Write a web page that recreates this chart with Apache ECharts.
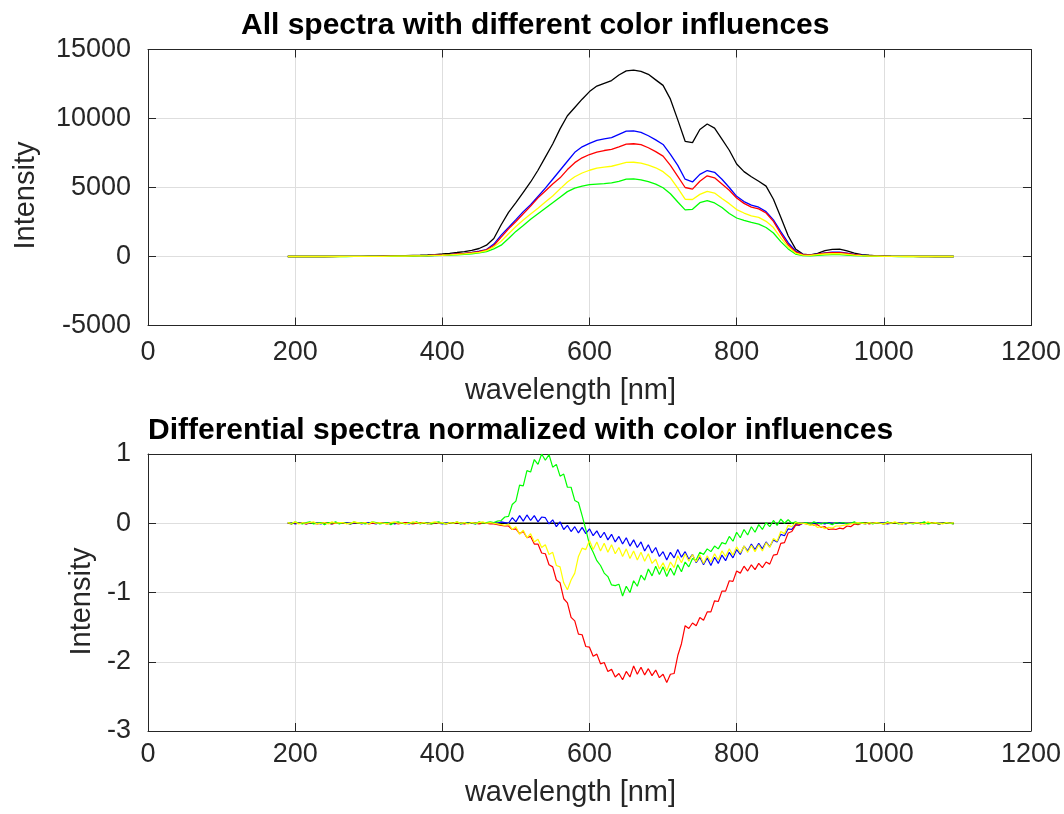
<!DOCTYPE html>
<html>
<head>
<meta charset="utf-8">
<script src="https://cdn.jsdelivr.net/npm/echarts@6/dist/echarts.min.js"></script>
<style>
html,body{margin:0;padding:0;background:#fff;}
#chart{width:1064px;height:814px;}
</style>
</head>
<body>
<div id="chart"></div>
<script>
// ---------- Top plot: wavelength grid (nm) ----------
var wlTop = [
 190,200,210,220,230,240,250,260,270,280,
 290,300,310,320,330,340,350,360,370,380,
 390,400,410,420,430,440,450,460,470,480,
 490,500,510,520,530,540,550,560,570,580,
 590,600,610,620,630,640,650,660,670,680,
 690,700,710,720,730,740,750,760,770,780,
 790,800,810,820,830,840,850,860,870,880,
 890,900,910,920,930,940,950,960,970,980,
 990,1000,1010,1020,1030,1040,1050,1060,1070,1080,
 1090,1095
];
var specBlack = [
 0,0,0,0,0,0,5,5,10,10,
 15,20,25,30,40,50,60,75,90,110,
 140,180,230,290,360,450,580,820,1300,2300,
 3200,3900,4650,5400,6250,7200,8150,9250,10200,10800,
 11400,11950,12350,12550,12750,13150,13450,13500,13420,13200,
 12800,12400,11400,9900,8350,8250,9200,9600,9300,8500,
 7700,6700,6150,5780,5450,5100,4150,2850,1500,550,
 170,120,230,420,520,540,400,250,140,90,
 50,30,20,15,10,10,5,5,0,0,
 0,0
];
var specBlue = [
 0,0,0,0,0,0,0,5,5,5,
 10,10,15,20,25,30,40,50,60,70,
 90,110,140,180,230,300,380,500,900,1550,
 2100,2670,3250,3750,4350,4950,5600,6250,6900,7550,
 7950,8200,8420,8530,8620,8850,9080,9100,9000,8750,
 8450,8120,7400,6600,5600,5400,5950,6230,6100,5600,
 5000,4360,3980,3720,3570,3250,2650,1800,1000,400,
 150,100,180,270,310,310,240,150,90,50,
 30,20,10,10,5,5,0,0,0,0,
 0,0
];
var specRed = [
 0,0,0,0,0,0,0,5,5,5,
 10,10,15,20,25,30,40,50,60,70,
 90,110,140,180,220,280,360,480,800,1400,
 2000,2540,3100,3650,4250,4750,5250,5700,6300,6800,
 7150,7390,7560,7680,7760,7950,8150,8170,8100,7880,
 7600,7270,6600,5800,5000,4880,5450,5850,5700,5250,
 4800,4240,3850,3580,3450,3150,2550,1650,850,330,
 140,100,170,250,280,280,220,140,80,50,
 30,20,10,10,5,5,0,0,0,0,
 0,0
];
var specYellow = [
 0,0,0,0,0,0,0,0,5,5,
 5,10,10,15,20,25,30,40,50,60,
 75,90,115,150,190,240,300,420,700,1100,
 1650,2180,2650,3080,3500,3950,4380,4900,5400,5780,
 6050,6250,6400,6470,6540,6680,6820,6830,6770,6620,
 6430,6150,5700,4950,4150,4130,4500,4720,4600,4200,
 3830,3400,3150,2950,2830,2550,2100,1350,700,250,
 100,80,130,180,200,200,160,100,60,30,
 20,10,5,5,0,0,0,0,0,0,
 0,0
];
var specGreen = [
 0,0,0,0,0,0,0,0,0,5,
 5,5,10,10,15,20,25,30,40,50,
 60,75,95,120,160,200,260,350,550,820,
 1300,1820,2250,2700,3100,3500,3900,4300,4700,4950,
 5100,5210,5250,5280,5330,5450,5600,5620,5560,5420,
 5250,4980,4550,3950,3380,3420,3900,4050,3880,3550,
 3120,2790,2620,2470,2350,2100,1700,1080,550,180,
 60,50,90,120,130,130,100,60,40,20,
 10,5,5,0,0,0,0,0,0,0,
 0,0
];

// ---------- Bottom plot: wavelength grid (nm) ----------
var wlDiff = [
 190,195,200,205,210,215,220,225,230,235,
 240,245,250,255,260,265,270,275,280,285,
 290,295,300,305,310,315,320,325,330,335,
 340,345,350,355,360,365,370,375,380,385,
 390,395,400,405,410,415,420,425,430,435,
 440,445,450,455,460,465,470,475,480,485,
 490,495,500,505,510,515,520,525,530,535,
 540,545,550,555,560,565,570,575,580,585,
 590,595,600,605,610,615,620,625,630,635,
 640,645,650,655,660,665,670,675,680,685,
 690,695,700,705,710,715,720,725,730,735,
 740,745,750,755,760,765,770,775,780,785,
 790,795,800,805,810,815,820,825,830,835,
 840,845,850,855,860,865,870,875,880,885,
 890,895,900,905,910,915,920,925,930,935,
 940,945,950,955,960,965,970,975,980,985,
 990,995,1000,1005,1010,1015,1020,1025,1030,1035,
 1040,1045,1050,1055,1060,1065,1070,1075,1080,1085,
 1090,1095
];
var refWl = [190, 1095];
var diffBlack = [0, 0];
var diffBlue = [
 0.00,0.01,-0.01,0.00,0.01,-0.01,0.00,0.01,0.00,-0.01,
 0.01,0.00,-0.01,0.01,0.00,0.00,0.01,-0.01,0.00,0.01,
 -0.01,0.00,0.01,0.00,-0.01,0.01,0.00,0.00,0.01,-0.01,
 0.00,0.01,0.00,-0.01,0.01,0.00,0.00,0.01,-0.01,0.00,
 0.01,0.00,-0.01,0.00,0.01,0.00,0.01,-0.01,0.00,0.01,
 0.00,-0.01,0.01,0.00,0.01,0.00,0.01,0.00,0.02,0.01,
 0.00,0.08,0.02,0.11,0.03,0.12,0.04,0.11,0.02,0.09,
 0.08,-0.01,0.05,-0.05,0.02,-0.09,-0.03,-0.12,-0.05,-0.14,
 -0.06,-0.15,-0.08,-0.18,-0.11,-0.21,-0.13,-0.24,-0.16,-0.27,
 -0.19,-0.30,-0.21,-0.33,-0.24,-0.35,-0.27,-0.40,-0.31,-0.43,
 -0.35,-0.48,-0.41,-0.53,-0.42,-0.50,-0.38,-0.49,-0.41,-0.52,
 -0.45,-0.57,-0.49,-0.60,-0.50,-0.61,-0.49,-0.58,-0.46,-0.54,
 -0.42,-0.50,-0.38,-0.45,-0.33,-0.40,-0.30,-0.38,-0.29,-0.37,
 -0.27,-0.34,-0.24,-0.27,-0.16,-0.18,-0.08,-0.09,-0.02,-0.03,
 0.00,0.01,-0.01,0.00,0.01,0.00,-0.01,0.01,0.00,0.00,
 0.01,0.00,-0.01,0.00,0.01,0.00,0.00,-0.01,0.01,0.00,
 0.00,0.01,0.00,-0.01,0.00,0.01,0.00,0.00,-0.01,0.01,
 0.00,0.00,0.01,-0.01,0.00,0.01,0.00,-0.01,0.00,0.01,
 0.00,0.00
];
var diffRed = [
 0.00,-0.01,0.01,0.00,0.00,-0.01,0.01,0.00,-0.01,0.00,
 0.01,0.00,-0.01,0.00,0.01,0.00,0.00,-0.01,0.01,0.00,
 0.00,0.01,-0.01,0.00,0.00,0.01,0.00,-0.01,0.00,0.01,
 -0.01,0.00,0.01,0.00,-0.01,0.00,0.01,0.00,0.00,-0.01,
 0.00,0.01,0.00,-0.01,0.00,0.01,0.00,0.00,-0.01,0.00,
 0.01,0.00,-0.01,0.00,0.00,-0.01,-0.01,-0.02,-0.03,-0.04,
 -0.04,-0.09,-0.08,-0.15,-0.12,-0.21,-0.19,-0.30,-0.30,-0.43,
 -0.44,-0.60,-0.63,-0.82,-0.86,-1.09,-1.15,-1.36,-1.41,-1.60,
 -1.61,-1.78,-1.79,-1.92,-1.89,-2.03,-2.01,-2.14,-2.11,-2.22,
 -2.17,-2.26,-2.14,-2.22,-2.06,-2.18,-2.08,-2.19,-2.10,-2.20,
 -2.12,-2.23,-2.18,-2.30,-2.18,-2.17,-1.91,-1.74,-1.48,-1.52,
 -1.44,-1.48,-1.36,-1.40,-1.28,-1.28,-1.12,-1.13,-0.98,-0.98,
 -0.83,-0.84,-0.69,-0.72,-0.62,-0.69,-0.60,-0.67,-0.58,-0.64,
 -0.56,-0.59,-0.46,-0.45,-0.29,-0.28,-0.14,-0.12,-0.03,-0.02,
 0.00,-0.01,0.00,-0.03,-0.02,-0.06,-0.05,-0.09,-0.08,-0.09,
 -0.07,-0.08,-0.04,-0.05,-0.01,-0.02,0.00,0.01,-0.01,0.00,
 0.01,0.00,-0.01,0.00,0.01,0.00,0.00,-0.01,0.01,0.00,
 0.00,0.01,-0.01,0.00,0.00,0.01,0.00,-0.01,0.00,0.01,
 0.00,-0.01
];
var diffGreen = [
 0.01,-0.01,0.02,0.00,-0.01,0.01,0.02,-0.01,0.00,0.01,
 -0.02,0.01,0.00,0.02,-0.01,0.01,0.00,-0.01,0.02,0.00,
 0.01,-0.01,0.00,0.02,0.01,-0.01,0.00,0.01,-0.02,0.01,
 0.02,0.00,-0.01,0.01,0.00,0.02,-0.01,0.01,0.00,-0.01,
 0.01,0.02,0.00,-0.01,0.01,0.00,0.02,-0.01,0.01,0.00,
 0.01,-0.01,0.02,0.00,0.01,0.02,0.01,0.03,0.04,0.09,
 0.10,0.27,0.32,0.55,0.54,0.76,0.74,0.92,0.85,1.00,
 0.91,0.99,0.81,0.85,0.68,0.71,0.52,0.52,0.33,0.30,
 0.11,-0.09,-0.31,-0.42,-0.54,-0.61,-0.72,-0.77,-0.89,-0.90,
 -0.88,-1.05,-0.91,-1.00,-0.83,-0.91,-0.75,-0.82,-0.66,-0.76,
 -0.62,-0.74,-0.63,-0.77,-0.65,-0.75,-0.60,-0.70,-0.56,-0.63,
 -0.51,-0.53,-0.42,-0.45,-0.37,-0.41,-0.33,-0.37,-0.28,-0.30,
 -0.19,-0.26,-0.13,-0.21,-0.09,-0.17,-0.05,-0.13,-0.02,-0.09,
 0.01,-0.05,0.04,-0.03,0.06,0.00,0.05,0.00,0.02,0.00,
 0.00,0.01,-0.01,0.02,0.00,-0.01,0.01,0.00,-0.02,0.01,
 0.00,0.01,-0.01,0.00,0.02,-0.01,0.01,0.00,0.01,-0.01,
 0.01,0.00,-0.01,0.02,0.00,0.01,-0.01,0.00,0.01,0.00,
 -0.01,0.01,0.00,0.02,-0.01,0.00,0.01,-0.01,0.00,0.01,
 0.00,-0.01
];
var diffYellow = [
 0.01,0.00,0.02,-0.01,0.01,0.00,0.01,0.02,-0.01,0.00,
 0.01,-0.01,0.02,0.00,0.01,0.01,-0.01,0.00,0.02,0.01,
 0.00,0.01,-0.01,0.02,0.00,0.01,0.00,-0.01,0.01,0.02,
 0.00,0.01,-0.01,0.00,0.02,0.01,0.00,0.01,-0.01,0.01,
 0.02,0.00,0.01,-0.01,0.01,0.00,0.02,0.00,0.01,-0.01,
 0.01,0.00,0.01,0.02,0.00,0.01,0.00,-0.01,-0.02,-0.03,
 -0.01,-0.09,-0.05,-0.16,-0.10,-0.21,-0.15,-0.27,-0.23,-0.35,
 -0.31,-0.45,-0.42,-0.61,-0.63,-0.86,-0.96,-0.82,-0.72,-0.48,
 -0.36,-0.38,-0.25,-0.38,-0.27,-0.40,-0.29,-0.42,-0.31,-0.44,
 -0.35,-0.48,-0.37,-0.51,-0.40,-0.53,-0.42,-0.55,-0.44,-0.58,
 -0.52,-0.66,-0.57,-0.69,-0.56,-0.64,-0.47,-0.57,-0.44,-0.55,
 -0.45,-0.56,-0.46,-0.58,-0.47,-0.56,-0.44,-0.53,-0.40,-0.48,
 -0.37,-0.46,-0.34,-0.43,-0.33,-0.42,-0.32,-0.41,-0.31,-0.40,
 -0.28,-0.35,-0.22,-0.26,-0.12,-0.15,-0.03,-0.05,0.01,0.00,
 0.00,-0.01,-0.03,-0.02,-0.06,-0.05,-0.08,-0.06,-0.07,-0.04,
 -0.04,-0.03,-0.02,-0.01,0.00,0.01,0.00,-0.01,0.01,0.00,
 0.01,0.00,-0.01,0.01,0.00,0.02,0.00,-0.01,0.01,0.00,
 0.00,0.01,0.00,-0.01,0.02,0.00,0.01,0.00,-0.01,0.01,
 0.00,0.01
];

// ---------- axis ticks / text ----------
var xTicks = {min: 0, max: 1200, interval: 200};
var yTopTicks = {min: -5000, max: 15000, interval: 5000};
var yBotTicks = {min: -3, max: 1, interval: 1};
var titleTop = 'All spectra with different color influences';
var titleBot = 'Differential spectra normalized with color influences';
var xName = 'wavelength [nm]';
var yName = 'Intensity';

function pairs(xs, ys) { return xs.map(function (x, i) { return [x, ys[i]]; }); }

var FONT = '"Liberation Sans", Arial, Helvetica, sans-serif';
var AX = '#262626';
var GRIDC = '#dedede';
var TICKFS = 27, NAMEFS = 29, TITLEFS = 30;
function plain(v) { return String(v); }

function mainX(grid, margin, gap) {
  return {
    gridIndex: grid, type: 'value', position: 'bottom',
    min: xTicks.min, max: xTicks.max, interval: xTicks.interval,
    axisLine: {show: true, onZero: false, lineStyle: {color: AX, width: 1}},
    axisTick: {show: true, inside: true, length: 8, lineStyle: {color: AX}},
    axisLabel: {fontSize: TICKFS, fontFamily: FONT, color: AX, margin: margin, formatter: plain},
    splitLine: {show: true, lineStyle: {color: GRIDC, width: 1}},
    name: xName, nameLocation: 'middle', nameGap: gap,
    nameTextStyle: {fontSize: NAMEFS, fontFamily: FONT, color: AX, padding: [0, 38, 0, 0]}
  };
}
function sideX(grid) {
  return {
    gridIndex: grid, type: 'value', position: 'top',
    min: xTicks.min, max: xTicks.max, interval: xTicks.interval,
    axisLine: {show: true, onZero: false, lineStyle: {color: AX, width: 1}},
    axisTick: {show: true, inside: true, length: 8, lineStyle: {color: AX}},
    axisLabel: {show: false}, splitLine: {show: false}
  };
}
function mainY(grid, t, gap, shift) {
  return {
    gridIndex: grid, type: 'value', position: 'left',
    min: t.min, max: t.max, interval: t.interval,
    axisLine: {show: true, onZero: false, lineStyle: {color: AX, width: 1}},
    axisTick: {show: true, inside: true, length: 8, lineStyle: {color: AX}},
    axisLabel: {fontSize: TICKFS, fontFamily: FONT, color: AX, margin: 17, formatter: plain},
    splitLine: {show: true, lineStyle: {color: GRIDC, width: 1}},
    name: yName, nameLocation: 'middle', nameGap: gap, nameRotate: 90,
    nameTextStyle: {fontSize: NAMEFS, fontFamily: FONT, color: AX, padding: [0, shift, 0, 0]}
  };
}
function sideY(grid, t) {
  return {
    gridIndex: grid, type: 'value', position: 'right',
    min: t.min, max: t.max, interval: t.interval,
    axisLine: {show: true, onZero: false, lineStyle: {color: AX, width: 1}},
    axisTick: {show: true, inside: true, length: 8, lineStyle: {color: AX}},
    axisLabel: {show: false}, splitLine: {show: false}
  };
}
function line(xi, yi, xs, ys, color, z, w) {
  return {
    type: 'line', xAxisIndex: xi, yAxisIndex: yi, data: pairs(xs, ys),
    showSymbol: false, symbol: 'none', silent: true, z: z,
    lineStyle: {color: color, width: w}, itemStyle: {color: color}
  };
}

var chart = echarts.init(document.getElementById('chart'), null, {renderer: 'canvas'});
chart.setOption({
  animation: false,
  backgroundColor: '#ffffff',
  title: [
    {text: titleTop, left: 236, top: 6, textStyle: {fontSize: TITLEFS, fontWeight: 'bold', fontFamily: FONT, color: '#000'}},
    {text: titleBot, left: 143, top: 411, textStyle: {fontSize: TITLEFS, fontWeight: 'bold', fontFamily: FONT, color: '#000'}}
  ],
  grid: [
    {left: 148, right: 31, top: 49.5, height: 276},
    {left: 148, right: 31, top: 454, height: 277}
  ],
  xAxis: [mainX(0, 14, 51), sideX(0), mainX(1, 10, 47), sideX(1)],
  yAxis: [mainY(0, yTopTicks, 108, 16), sideY(0, yTopTicks), mainY(1, yBotTicks, 52, 18), sideY(1, yBotTicks)],
  series: [
    line(0, 0, wlTop, specBlack, '#000000', 2, 1.3),
    line(0, 0, wlTop, specBlue, '#0000ff', 3, 1.3),
    line(0, 0, wlTop, specRed, '#ff0000', 4, 1.3),
    line(0, 0, wlTop, specGreen, '#00ff00', 5, 1.3),
    line(0, 0, wlTop, specYellow, '#ffff00', 6, 1.3),
    line(2, 2, refWl, diffBlack, '#000000', 2, 1.3),
    line(2, 2, wlDiff, diffBlue, '#0000ff', 3, 1.2),
    line(2, 2, wlDiff, diffRed, '#ff0000', 4, 1.2),
    line(2, 2, wlDiff, diffGreen, '#00ff00', 5, 1.2),
    line(2, 2, wlDiff, diffYellow, '#ffff00', 6, 1.2)
  ]
});
</script>
</body>
</html>
